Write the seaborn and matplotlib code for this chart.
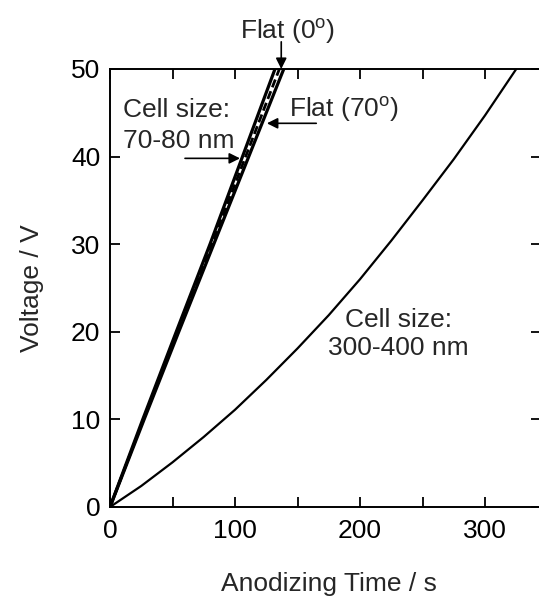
import matplotlib
matplotlib.use("Agg")
import matplotlib.pyplot as plt
import seaborn as sns
import pandas as pd

# ---- data ----
v_levels = [0, 10, 20, 30, 40, 50]
t_flat0 = [0, 27.3, 55, 83, 111, 139]
t_flat70 = [0, 26.8, 54, 81.5, 108.5, 135.5]
t_cell70 = [0, 26.2, 53, 80, 106, 132]

t_cell300 = [0, 25, 50, 75, 100, 125, 150, 175, 200, 225, 250, 275, 300, 325]
v_cell300 = [0, 2.4, 5.1, 8.0, 11.1, 14.5, 18.1, 21.9, 26.0, 30.4, 35.0, 39.7, 44.7, 50.0]

x_ticks = [0, 100, 200, 300]
x_minor = [50, 150, 250]
y_ticks = [0, 10, 20, 30, 40, 50]

sns.set_style("ticks")
plt.rcParams['font.family'] = ['Liberation Sans', 'DejaVu Sans']
plt.rcParams['mathtext.fontset'] = 'custom'
plt.rcParams['mathtext.rm'] = 'Liberation Sans'
plt.rcParams['mathtext.it'] = 'Liberation Sans'

fig = plt.figure(figsize=(5.39, 5.96), dpi=100)
ax = fig.add_axes([110/539, 1-507/596, (540.5-110)/539, (507-69)/596])

df_flat0 = pd.DataFrame({"t": t_flat0, "v": v_levels})
df_flat70 = pd.DataFrame({"t": t_flat70, "v": v_levels})
df_cell70 = pd.DataFrame({"t": t_cell70, "v": v_levels})
df_cell300 = pd.DataFrame({"t": t_cell300, "v": v_cell300})

sns.lineplot(data=df_cell70, x="t", y="v", ax=ax, color="black", lw=2.3, sort=False)
sns.lineplot(data=df_flat0, x="t", y="v", ax=ax, color="black", lw=2.3, sort=False)
sns.lineplot(data=df_flat70, x="t", y="v", ax=ax, color="black", lw=2.0,
             linestyle=(0, (3, 1.5)), sort=False)
sns.lineplot(data=df_cell300, x="t", y="v", ax=ax, color="black", lw=1.6, sort=False)

ax.set_xlim(0, (540.5-110)/1.25)
ax.set_ylim(0, 50)
ax.set_xticks(x_ticks)
ax.set_xticks(x_minor, minor=True)
ax.set_yticks(y_ticks)
ax.tick_params(which='both', direction='in', top=True, right=True, length=10*0.72,
               width=1.3, labelsize=19, colors='black')
ax.tick_params(axis='x', pad=9)
ax.tick_params(axis='y', pad=7)
ax.tick_params(axis='x', labeltop=False)
ax.tick_params(axis='y', labelright=False)
for sp in ax.spines.values():
    sp.set_linewidth(1.4)
    sp.set_color('black')

ax.set_xlabel("Anodizing Time / s", fontsize=19)
ax.set_ylabel("Voltage / V", fontsize=19)
ax.xaxis.set_label_coords((329-110)/430.5, (507-572)/438)
ax.yaxis.set_label_coords((44-110)/430.5, 0.5)

fs = 19
arrow = dict(arrowstyle='-|>', color='black', lw=1.2, mutation_scale=16, shrinkA=0, shrinkB=0)
ax.annotate("", xy=(137, 50), xytext=(137, 53.1), arrowprops=arrow, annotation_clip=False)
ax.text(142.4, 53.5, r"Flat (0$^\mathrm{o}$)", fontsize=fs, ha='center', va='baseline', clip_on=False)

ax.annotate("", xy=(125.5, 43.8), xytext=(165, 43.8), arrowprops=arrow)
ax.text(143.4, 44.5, r"Flat (70$^\mathrm{o}$)", fontsize=fs, ha='left', va='baseline')

ax.annotate("", xy=(104, 39.8), xytext=(60, 39.8), arrowprops=arrow)
ax.text(10.1, 44.5, "Cell size:", fontsize=fs, ha='left', va='baseline')
ax.text(10.1, 41.0, "70-80 nm", fontsize=fs, ha='left', va='baseline')

ax.text(231, 20.6, "Cell size:", fontsize=fs, ha='center', va='baseline')
ax.text(231, 17.4, "300-400 nm", fontsize=fs, ha='center', va='baseline')

fig.savefig("out.png", dpi=100)
